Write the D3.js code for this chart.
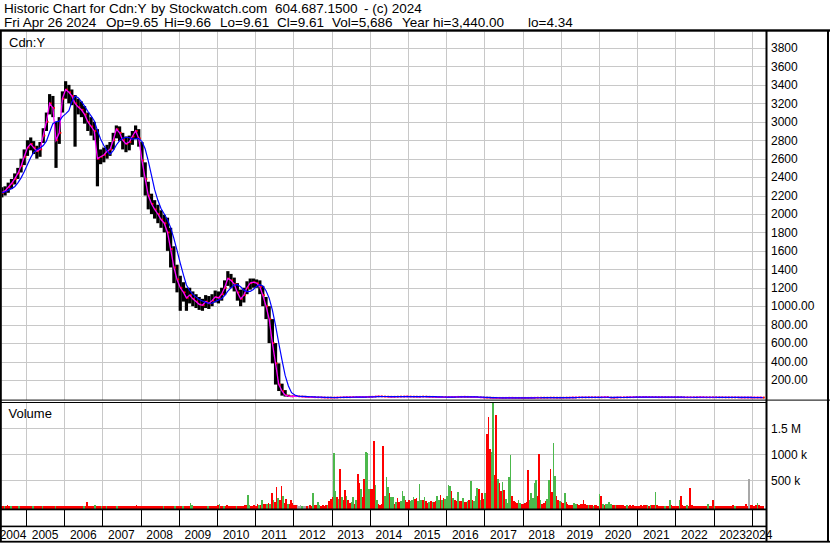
<!DOCTYPE html>
<html>
<head>
<meta charset="utf-8">
<script src="https://cdn.jsdelivr.net/npm/d3@7"></script>
<style>
body { margin: 0; background: #fff; }
svg { display: block; font-family: Arial, "Liberation Sans", sans-serif; }
</style>
</head>
<body>
<svg id="chart" width="830" height="543"></svg>
<script>
// monthly bars start May 2004, volume is half-monthly from the same start
const startYear = 2004, startMonth = 4;

const closes = [
  2230, 2250, 2290, 2330, 2380, 2440, 2520, 2620,                       // 2004 May-Dec
  2720, 2760, 2720, 2680, 2700, 2850, 3000, 3200, 3150, 2800, 2880, 3250, // 2005
  3350, 3320, 3280, 3200, 3160, 3130, 3080, 3000, 2950, 2900, 2600, 2620, // 2006
  2640, 2680, 2700, 2800, 2920, 2880, 2800, 2760, 2780, 2840, 2900, 2820, // 2007
  2580, 2380, 2200, 2110, 2050, 2000, 1940, 1900, 1800, 1620, 1420, 1290, // 2008
  1200, 1150, 1090, 1120, 1080, 1050, 1020, 1010, 1050, 1030, 1060, 1100, // 2009
  1090, 1130, 1200, 1300, 1280, 1240, 1150, 1080, 1120, 1200, 1250, 1260, // 2010
  1250, 1210, 1120, 1000, 860, 600, 380, 150, 80, 35, 25, 22,             // 2011
  24, 22, 20, 18, 16, 14, 13, 12, 11, 10, 9, 9,                           // 2012
  9, 10, 11, 12, 13, 13, 14, 14, 15, 15, 16, 17,                          // 2013
  18, 20, 22, 22, 20, 19, 18, 18, 19, 20, 20, 21,                         // 2014
  20, 19, 19, 18, 20, 20, 18, 17, 16, 15, 14, 14,                         // 2015
  14, 15, 16, 17, 17, 18, 17, 16, 15, 14, 12, 10,                         // 2016
  9, 8, 7, 6, 6, 6, 6, 7, 7, 6, 6, 6,                                     // 2017
  6, 6, 7, 7, 8, 8, 8, 8, 9, 9, 8, 8,                                     // 2018
  8, 9, 9, 10, 10, 11, 11, 11, 12, 12, 12, 12,                            // 2019
  12, 13, 14, 9, 8, 10, 11, 12, 12, 13, 13, 14,                           // 2020
  14, 14, 15, 14, 14, 14, 13, 13, 13, 13, 13, 13,                         // 2021
  13, 13, 12, 12, 12, 12, 12, 13, 13, 12, 12, 12,                         // 2022
  12, 12, 12, 11, 11, 11, 11, 11, 10, 10, 10, 10,                         // 2023
  10, 10, 10, 9.61                                                        // 2024 Jan-Apr
];

const highs = [
  2290, 2300, 2340, 2380, 2440, 2500, 2600, 2700,
  2800, 2830, 2790, 2740, 2780, 2930, 3100, 3300, 3280, 3000, 3050, 3330,
  3440, 3400, 3350, 3290, 3250, 3220, 3170, 3100, 3050, 3000, 2920, 2700,
  2720, 2750, 2780, 2880, 2960, 2950, 2880, 2840, 2850, 2900, 2960, 2920,
  2780, 2560, 2350, 2220, 2150, 2100, 2040, 1990, 1960, 1850, 1650, 1450,
  1330, 1260, 1200, 1200, 1160, 1130, 1100, 1080, 1120, 1110, 1130, 1170,
  1160, 1200, 1280, 1380, 1350, 1310, 1250, 1180, 1200, 1270, 1300, 1300,
  1290, 1280, 1220, 1100, 1000, 860, 600, 380, 160, 90, 40, 30,
  30, 27, 25, 22, 20, 18, 16, 15, 14, 13, 12, 12,
  12, 13, 14, 15, 16, 16, 17, 17, 18, 18, 19, 20,
  21, 23, 25, 25, 23, 22, 21, 21, 22, 23, 23, 24,
  23, 22, 22, 21, 23, 23, 21, 20, 19, 18, 17, 17,
  17, 18, 19, 20, 20, 21, 20, 19, 18, 17, 15, 13,
  11, 10, 9, 8, 8, 8, 8, 9, 9, 8, 8, 8,
  8, 8, 9, 9, 10, 10, 10, 10, 11, 11, 10, 10,
  10, 11, 11, 12, 12, 13, 13, 13, 14, 14, 14, 14,
  14, 15, 16, 13, 10, 12, 13, 14, 14, 15, 15, 16,
  16, 16, 17, 16, 16, 16, 15, 15, 15, 15, 15, 15,
  15, 15, 14, 14, 14, 14, 14, 15, 15, 14, 14, 14,
  14, 14, 14, 13, 13, 13, 13, 13, 12, 12, 12, 12,
  11, 11, 11, 10
];

const lows = [
  2180, 2200, 2230, 2270, 2320, 2380, 2450, 2530,
  2630, 2690, 2650, 2600, 2620, 2770, 2900, 3080, 3050, 2500, 2760, 3100,
  3250, 3200, 3180, 2730, 3080, 3050, 2980, 2900, 2850, 2800, 2300, 2540,
  2560, 2600, 2630, 2700, 2820, 2790, 2700, 2670, 2690, 2750, 2810, 2730,
  2400, 2200, 2050, 2000, 1950, 1900, 1850, 1800, 1600, 1420, 1250, 1150,
  950, 1050, 950, 1030, 1000, 980, 960, 950, 980, 970, 1000, 1040,
  1030, 1060, 1120, 1220, 1200, 1160, 1060, 1000, 1040, 1130, 1180, 1200,
  1200, 1130, 1000, 860, 600, 380, 150, 80, 30, 20, 15, 14,
  20, 18, 17, 15, 13, 12, 11, 10, 9, 8, 7, 7,
  7, 8, 9, 10, 11, 11, 12, 12, 13, 13, 14, 15,
  16, 18, 19, 20, 18, 17, 16, 16, 17, 18, 18, 19,
  18, 17, 17, 16, 18, 18, 16, 15, 14, 13, 12, 12,
  12, 13, 14, 15, 15, 16, 15, 14, 13, 12, 10, 8,
  7, 6, 5, 4.5, 4.34, 5, 5, 6, 6, 5, 5, 5,
  5, 5, 6, 6, 7, 7, 7, 7, 8, 8, 7, 7,
  7, 8, 8, 9, 9, 10, 10, 10, 11, 11, 11, 11,
  11, 12, 12, 6, 6, 9, 10, 11, 11, 12, 12, 13,
  13, 13, 14, 13, 13, 13, 12, 12, 12, 12, 12, 12,
  12, 12, 11, 11, 11, 11, 11, 12, 12, 11, 11, 11,
  11, 11, 11, 10, 10, 10, 10, 10, 9, 9, 9, 9,
  9, 9, 9, 9.5
];

// half-monthly volume, thousands of shares
const volumeK = [
  8, 10, 8, 10, 25, 8, 10, 12, 8, 10, 8, 10, 8, 12, 10, 8,                                        // 2004
  6, 5, 8, 4, 6, 5, 4, 6, 8, 5, 6, 4, 5, 6, 8, 8, 6, 5, 5, 4, 6, 5, 7, 5,                         // 2005
  5, 6, 5, 4, 6, 5, 8, 5, 6, 5, 6, 4, 6, 5, 89, 6, 5, 8, 6, 25, 6, 5, 8, 6,                       // 2006
  6, 5, 8, 6, 5, 6, 5, 4, 6, 5, 8, 6, 5, 6, 5, 6, 8, 6, 5, 8, 6, 25, 6, 5,                        // 2007
  6, 8, 10, 8, 6, 8, 10, 8, 6, 8, 10, 8, 6, 8, 6, 5, 8, 10, 12, 8, 6, 8, 6, 5,                    // 2008
  8, 10, 6, 8, 6, 10, 12, 70, 20, 8, 6, 5, 8, 6, 10, 8, 6, 5, 8, 6, 8, 12, 6, 10,                 // 2009
  25, 44, 10, 8, 6, 10, 20, 8, 6, 12, 8, 6, 10, 8, 6, 8, 10, 20, 30, 217, 30, 15, 10, 20,         // 2010
  15, 40, 30, 25, 120, 40, 50, 45, 60, 40, 260, 120, 80, 370, 160, 120, 390, 200, 60, 140, 50, 40, 120, 60, // 2011
  30, 20, 25, 15, 20, 10, 15, 10, 12, 15, 20, 10, 255, 30, 20, 90, 25, 15, 20, 15, 20, 30, 100, 150,       // 2012
  180, 1030, 300, 180, 150, 720, 185, 120, 310, 200, 130, 60, 90, 185, 45, 120, 620, 455, 330, 185, 525, 1040, 1030, 340, // 2013
  327, 330, 1256, 410, 121, 45, 25, 40, 1160, 200, 565, 365, 250, 180, 173, 45, 80, 160, 90, 100, 300, 200, 120, 90,      // 2014
  120, 100, 130, 185, 150, 160, 100, 430, 130, 120, 173, 100, 57, 80, 100, 90, 80, 100, 190, 120, 210, 130, 160, 140,     // 2015
  200, 410, 390, 300, 160, 130, 100, 280, 100, 100, 165, 80, 90, 100, 120, 490, 130, 100, 200, 355, 330, 120, 250, 150,   // 2016
  250, 1400, 1720, 1100, 1044, 1980, 600, 1760, 520, 440, 300, 475, 313, 150, 57, 571, 987, 200, 108, 80, 60, 121, 60, 40, // 2017
  40, 60, 80, 698, 128, 250, 160, 442, 506, 200, 1006, 120, 45, 60, 100, 150, 500, 724, 280, 1212, 584, 200, 121, 100,     // 2018
  80, 60, 250, 90, 40, 30, 25, 30, 60, 50, 40, 30, 40, 50, 121, 40, 30, 20, 20, 30, 15, 25, 20, 15,       // 2019
  230, 205, 40, 30, 50, 35, 80, 40, 25, 30, 30, 25, 25, 30, 20, 20, 15, 20, 15, 20, 15, 20, 15, 15,       // 2020
  10, 15, 20, 15, 20, 25, 30, 15, 30, 20, 25, 275, 30, 15, 10, 10, 10, 10, 15, 15, 121, 20, 15, 15,      // 2021
  10, 15, 120, 200, 20, 15, 10, 25, 15, 355, 20, 15, 10, 10, 15, 10, 10, 15, 10, 15, 45, 10, 15, 120,    // 2022
  10, 10, 15, 10, 10, 10, 8, 10, 12, 10, 10, 10, 20, 15, 10, 10, 10, 12, 10, 10, 40, 10, 525, 20,        // 2023
  20, 15, 30, 55, 20, 15, 10, 10                                                                         // 2024
];

// r = down, g = up, n = unchanged, one letter per volume bar
const volumeColors = [
  "rrgrrrgrrrrgrrrr",
  "rrrrgrrrrrgrrrrrrrgrrrrr",
  "rrrrrrrrrrrrgrrrrrrgrrrg",
  "rrgrrrrrrgrrrrrrrrrrrrrr",
  "rrrrrrrrrrrrrrgrrrrrrgrr",
  "rrgrrrrggrrrrrrrrrgrrrrr",
  "rgrrgrrrrrrrgrrrrrrggrrr",
  "rrgrgrrgrgrgrrgrrgrrgrrr",
  "rrnnngnnrnrrgrrggrrrrgrr",
  "rggrgrgrrgrrggrgrrgrrggg",
  "rrrggrrrrgggrggrgrrgggrr",
  "rgggrrgggrgrrgrgrrggrgrg",
  "gggrgrrgrrgrrgrgrgggrgrr",
  "grrrggrrgrrgrggggrrrrggr",
  "rrrrgggggrrgrrrggrrggrrg",
  "rrgrrrrrggrrrrrrrgrrgrrr",
  "grgrggggrrgrrrrrrgrrrrrr",
  "rrrrrrgrgrrgrrrrrgrrgrrr",
  "rrgrrrrgrrrrrrrrrrrrgrrr",
  "grrrrrrrrrrrrgrrrrrrrrnr",
  "rrrgrrrr"
].join("");

const priceTicks = [3800, 3600, 3400, 3200, 3000, 2800, 2600, 2400, 2200, 2000, 1800, 1600, 1400, 1200, 1000, 800, 600, 400, 200];
const priceTickLabels = ["3800", "3600", "3400", "3200", "3000", "2800", "2600", "2400", "2200", "2000", "1800", "1600", "1400", "1200", "1000.00", "800.00", "600.00", "400.00", "200.00"];
const volumeTicks = [500, 1000, 1500];
const volumeTickLabels = ["500 k", "1000 k", "1.5 M"];
const years = d3.range(2004, 2025);

// header text pieces and their left edges
const titleParts = [["Historic Chart for Cdn:Y", 4], ["by Stockwatch.com", 151], ["604.687.1500", 275], ["- (c) 2024", 364]];
const quoteParts = [["Fri Apr 26 2024", 4], ["Op=9.65", 106], ["Hi=9.66", 164], ["Lo=9.61", 220], ["Cl=9.61", 277],
                    ["Vol=5,686", 332], ["Year hi=3,440.00", 402], ["lo=4.34", 528]];

// layout
const left = 1.5, axisX = 766.5, W = 830;
const priceTop = 31.5, priceBottom = 400;
const volTop = 402.5, volBase = 508.7;

const svg = d3.select("#chart");

const x = d3.scaleUtc()
  .domain([Date.UTC(2005, 0, 1), Date.UTC(2024, 0, 1)])
  .range([26, 751.7]);
const y = d3.scaleLinear().domain([0, 3800]).range([398.4, 48.0]);
const yv = d3.scaleLinear().domain([0, 1500]).range([506.3, 428.3]);

const monthDate = i => Date.UTC(startYear, startMonth + i, 15);
const halfDate = i => Date.UTC(startYear, startMonth + Math.floor(i / 2), i % 2 ? 16 : 1);

const bars = closes.map((c, i) => ({date: monthDate(i), close: c, high: highs[i], low: lows[i]}));

// 5-month moving average of the close
const avg = closes.map((c, i) => ({date: monthDate(i), value: d3.mean(closes.slice(Math.max(0, i - 4), i + 1))}));

const gridColor = "#c8c8c8";

// grid: horizontal
svg.append("g").selectAll("line").data(priceTicks).join("line")
  .attr("x1", left).attr("x2", axisX)
  .attr("y1", d => Math.round(y(d)) + 0.5).attr("y2", d => Math.round(y(d)) + 0.5)
  .attr("stroke", gridColor);
svg.append("g").selectAll("line").data(volumeTicks).join("line")
  .attr("x1", left).attr("x2", axisX)
  .attr("y1", d => Math.round(yv(d)) + 0.5).attr("y2", d => Math.round(yv(d)) + 0.5)
  .attr("stroke", gridColor);

// grid: vertical year lines
const yearLines = years.slice(1).map(yr => Date.UTC(yr, 0, 1));
[[priceTop, priceBottom], [volTop, volBase]].forEach(([a, b]) => {
  svg.append("g").selectAll("line").data(yearLines).join("line")
    .attr("x1", d => Math.round(x(d)) + 0.5).attr("x2", d => Math.round(x(d)) + 0.5)
    .attr("y1", a).attr("y2", b)
    .attr("stroke", gridColor);
});

// volume bars
const volColor = {r: "#ff0000", g: "#4cb84c", n: "#a8a8a8"};
svg.append("g").attr("shape-rendering", "crispEdges")
  .selectAll("rect").data(volumeK).join("rect")
  .attr("x", (d, i) => x(halfDate(i)))
  .attr("width", (d, i) => Math.max(1, x(halfDate(i + 1)) - x(halfDate(i))))
  .attr("y", d => yv(d))
  .attr("height", d => volBase - yv(d))
  .attr("fill", (d, i) => volColor[volumeColors[i] || "r"]);

// price panel
svg.append("clipPath").attr("id", "pclip")
  .append("rect").attr("x", left).attr("y", priceTop).attr("width", axisX - left).attr("height", priceBottom - priceTop - 0.5);
const pg = svg.append("g").attr("clip-path", "url(#pclip)");

pg.append("g").selectAll("rect").data(bars).join("rect")
  .attr("x", d => x(d.date) - 1.6)
  .attr("width", 3.2)
  .attr("y", d => y(d.high))
  .attr("height", d => Math.max(0.8, y(d.low) - y(d.high)))
  .attr("fill", "#000");

pg.append("g").selectAll("rect").data(bars).join("rect")
  .attr("x", d => x(d.date) + 0.3)
  .attr("width", 1.8)
  .attr("y", d => y(d.close) - 0.9)
  .attr("height", 1.8)
  .attr("fill", "#ff0000");

pg.append("path").datum(bars)
  .attr("fill", "none").attr("stroke", "#ff00ff").attr("stroke-width", 1.3)
  .attr("d", d3.line().x(d => x(d.date)).y(d => y(d.close)));

pg.append("path").datum(avg)
  .attr("fill", "none").attr("stroke", "#0000ff").attr("stroke-width", 1.2)
  .attr("d", d3.line().x(d => x(d.date)).y(d => y(d.value)));

// frame lines
const blk = (x1, y1, w, h) => svg.append("rect").attr("x", x1).attr("y", y1).attr("width", w).attr("height", h).attr("fill", "#000");
blk(0, 29.3, W, 2.4);          // under header
blk(0, 30, 1.8, 512);          // left edge
blk(axisX - 1, 30, 2, 512);    // right axis
blk(827, 30, 2, 512);          // outer right
blk(0, 399.6, W, 1);           // price bottom
blk(0, 402, axisX, 1);         // volume top
blk(0, 508.5, axisX, 1.8);     // volume bottom
blk(0, 525.6, axisX, 1.6);     // tick row bottom
blk(0, 540.8, W, 1.8);         // bottom edge

// year ticks in the tick row
svg.append("g").selectAll("line").data(yearLines).join("line")
  .attr("x1", d => Math.round(x(d)) + 0.5).attr("x2", d => Math.round(x(d)) + 0.5)
  .attr("y1", 509).attr("y2", 526)
  .attr("stroke", "#000");

// year labels
svg.append("g").selectAll("text").data(years).join("text")
  .attr("x", yr => (Math.max(0, x(Date.UTC(yr, 0, 1))) + Math.min(axisX, x(Date.UTC(yr + 1, 0, 1)))) / 2)
  .attr("y", 538.5)
  .attr("text-anchor", "middle")
  .attr("font-size", 12)
  .text(d => d);

// price tick labels
svg.append("g").selectAll("text").data(priceTicks).join("text")
  .attr("x", 771).attr("y", d => y(d) + 4.3)
  .attr("font-size", 12)
  .text((d, i) => priceTickLabels[i]);

svg.append("g").selectAll("text").data(volumeTicks).join("text")
  .attr("x", 771).attr("y", d => yv(d) + 4.3)
  .attr("font-size", 12)
  .text((d, i) => volumeTickLabels[i]);

// header and panel labels
svg.append("g").selectAll("text").data(titleParts).join("text")
  .attr("x", d => d[1]).attr("y", 13.3).attr("font-size", 13.5).text(d => d[0]);
svg.append("g").selectAll("text").data(quoteParts).join("text")
  .attr("x", d => d[1]).attr("y", 26.6).attr("font-size", 13.5).text(d => d[0]);
svg.append("text").attr("x", 9).attr("y", 46.5).attr("font-size", 13).text("Cdn:Y");
svg.append("text").attr("x", 8.5).attr("y", 417.5).attr("font-size", 13).text("Volume");
</script>
</body>
</html>
